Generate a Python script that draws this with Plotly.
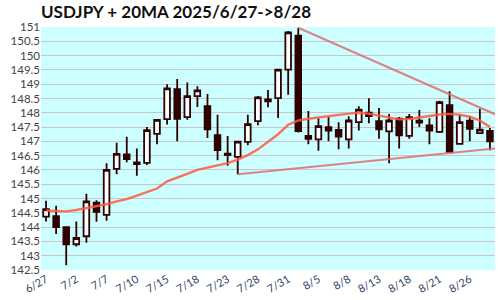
import plotly.graph_objects as go

dates = ["6/27","6/30","7/1","7/2","7/3","7/4","7/7","7/8","7/9","7/10","7/11","7/14","7/15","7/16","7/17",
         "7/18","7/21","7/22","7/23","7/24","7/25","7/28","7/29","7/30","7/31","8/1","8/4","8/5","8/6","8/7",
         "8/8","8/11","8/12","8/13","8/14","8/15","8/18","8/19","8/20","8/21","8/22","8/25","8/26","8/27","8/28"]
opens = [144.37,144.38,144.00,143.40,143.68,144.86,144.43,146.04,146.54,146.26,146.25,147.26,147.78,148.83,147.85,
         148.58,148.23,147.22,146.57,146.46,146.98,147.71,148.40,148.51,149.51,150.70,147.19,147.07,147.50,147.40,
         147.07,147.67,148.00,147.71,147.35,147.79,147.19,147.72,147.56,147.33,148.27,146.91,147.72,147.29,147.37]
highs = [144.92,144.75,144.02,144.20,145.17,144.94,146.23,146.95,147.16,146.75,147.50,147.77,149.00,149.18,149.06,
         148.93,148.66,147.93,147.19,147.02,147.93,148.59,148.80,149.53,150.86,150.97,148.06,147.81,147.85,147.67,
         147.88,148.23,148.51,148.17,147.96,147.85,147.96,148.10,147.81,148.42,148.75,147.93,147.88,148.14,147.47]
lows = [144.20,143.76,142.67,143.32,143.45,144.19,144.22,145.85,146.27,145.80,146.17,146.90,147.59,147.00,147.76,
        148.20,147.12,146.34,146.15,145.85,146.86,147.56,148.19,147.82,148.63,147.31,146.90,146.67,147.00,146.72,
        146.75,147.38,147.63,147.09,146.23,146.75,147.09,147.50,146.90,147.29,146.61,146.90,147.00,147.28,146.69]
closes = [144.63,144.00,143.40,143.62,144.90,144.53,146.00,146.56,146.38,146.20,147.39,147.75,148.85,147.79,148.58,
          148.78,147.42,146.69,146.52,146.99,147.60,148.54,148.47,149.51,150.81,147.36,147.09,147.53,147.38,147.17,
          147.73,148.11,147.88,147.42,147.73,147.21,147.85,147.66,147.38,148.37,146.63,147.67,147.44,147.41,147.00]
ma20 = [144.58,144.56,144.55,144.60,144.66,144.74,144.80,144.90,144.98,145.10,145.22,145.35,145.60,145.72,145.86,
        146.00,146.08,146.16,146.24,146.36,146.52,146.72,146.98,147.25,147.58,147.73,147.79,147.84,147.87,147.93,
        147.97,148.00,147.97,147.90,147.83,147.77,147.78,147.83,147.90,147.94,147.96,147.93,147.86,147.73,147.50]
upper_x = [25, 44.5]
upper_y = [150.97, 147.95]
lower_x = [19, 44.5]
lower_y = [145.85, 146.75]
ytick_vals = [142.5,143,143.5,144,144.5,145,145.5,146,146.5,147,147.5,148,148.5,149,149.5,150,150.5,151]
ytick_text = ["142.5","143","143.5","144","144.5","145","145.5","146","146.5","147","147.5","148","148.5",
              "149","149.5","150","150.5","151"]

idx = list(range(len(dates)))
xtick_vals = idx[::3]
xtick_text = dates[::3]

dark = "#2e0000"
fig = go.Figure()
fig.add_trace(go.Scatter(x=upper_x, y=upper_y, mode="lines",
                         line=dict(color="rgba(225,100,100,0.8)", width=2.2), hoverinfo="skip"))
fig.add_trace(go.Scatter(x=lower_x, y=lower_y, mode="lines",
                         line=dict(color="rgba(225,100,100,0.8)", width=2.2), hoverinfo="skip"))
fig.add_trace(go.Scatter(x=idx, y=ma20, mode="lines",
                         line=dict(color="rgba(255,90,60,0.85)", width=2.4), hoverinfo="skip"))
fig.add_trace(go.Candlestick(x=idx, open=opens, high=highs, low=lows, close=closes,
                             increasing=dict(fillcolor="#ffffff", line=dict(color=dark, width=1.8)),
                             decreasing=dict(fillcolor=dark, line=dict(color=dark, width=1.8)),
                             whiskerwidth=0))
fig.update_layout(
    width=500, height=300,
    margin=dict(l=41, r=5, t=27, b=27),
    paper_bgcolor="#ffffff", plot_bgcolor="#ccffff",
    showlegend=False,
    boxgap=0.2,
    title=dict(text="<b>USDJPY + 20MA 2025/6/27->8/28</b>", x=0.082, xanchor="left", y=0.96, yanchor="middle",
               font=dict(family="Lato", size=17, color="#111111")),
    font=dict(family="Lato", size=12, color="#444444"),
    xaxis=dict(range=[-0.5, 44.5], tickvals=xtick_vals, ticktext=xtick_text, tickangle=-30,
               showgrid=False, zeroline=False, rangeslider=dict(visible=False), showline=False,
               ticks="", tickfont=dict(size=11, color="#334466")),
    yaxis=dict(range=[142.5, 151], tickvals=ytick_vals, ticktext=ytick_text, showgrid=True,
               gridcolor="#cfc3ca", gridwidth=1.2, zeroline=False, showline=False, ticks="",
               tickfont=dict(size=11.5, color="#444444")),
)
fig.write_html("out.html")
